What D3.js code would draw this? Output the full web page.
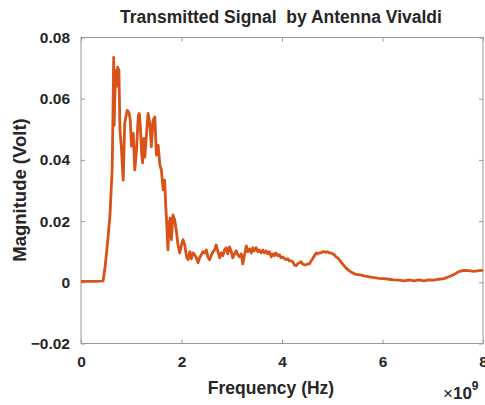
<!DOCTYPE html>
<html>
<head>
<meta charset="utf-8">
<script src="https://cdn.jsdelivr.net/npm/d3@7"></script>
<style>
  body { margin: 0; background: #fff; }
  text { font-family: "Liberation Sans", Arial, sans-serif; font-weight: bold; fill: #262626; }
</style>
</head>
<body>
<div id="chart"></div>
<script>
// frequency in units of 1e9 Hz
var freq = [0, 0.2, 0.4, 0.44, 0.48, 0.54, 0.58, 0.60, 0.62, 0.635, 0.65, 0.66, 0.675, 0.69, 0.71, 0.73, 0.755, 0.775, 0.80, 0.84,
  0.87, 0.92, 0.96, 0.98, 1.005, 1.04, 1.07, 1.105, 1.14, 1.16, 1.18, 1.205, 1.225, 1.25, 1.27, 1.305, 1.335, 1.37, 1.40, 1.435,
  1.47, 1.50, 1.535, 1.57, 1.60, 1.635, 1.665, 1.685, 1.705, 1.73, 1.75, 1.775, 1.80, 1.83, 1.865, 1.90, 1.93, 1.965, 2.00, 2.03,
  2.065, 2.10, 2.13, 2.165, 2.195, 2.23, 2.26, 2.295, 2.33, 2.36, 2.395, 2.425, 2.46, 2.495, 2.525, 2.56, 2.59, 2.625, 2.66, 2.69,
  2.725, 2.76, 2.79, 2.825, 2.855, 2.89, 2.92, 2.955, 2.99, 3.02, 3.055, 3.09, 3.12, 3.155, 3.19, 3.22, 3.255, 3.29, 3.32, 3.355,
  3.39, 3.42, 3.45, 3.485, 3.52, 3.55, 3.585, 3.62, 3.65, 3.685, 3.715, 3.75, 3.785, 3.815, 3.85, 3.88, 3.915, 3.95, 3.98, 4.015,
  4.05, 4.08, 4.115, 4.145, 4.18, 4.215, 4.245, 4.28, 4.31, 4.345, 4.38, 4.41, 4.445, 4.48, 4.51, 4.545, 4.58, 4.61, 4.645, 4.68,
  4.71, 4.74, 4.775, 4.81, 4.84, 4.875, 4.905, 4.94, 4.975, 5.005, 5.04, 5.075, 5.105, 5.14, 5.205, 5.27, 5.335, 5.40, 5.47, 5.535,
  5.635, 5.735, 5.83, 5.93, 6.03, 6.13, 6.23, 6.33, 6.43, 6.53, 6.63, 6.725, 6.825, 6.925, 7.025, 7.12, 7.22, 7.32, 7.42, 7.52,
  7.62, 7.72, 7.82, 7.915, 8.0];

var magnitude = [0.0003, 0.0003, 0.0004, 0.0005, 0.0051, 0.0149, 0.0227, 0.0302, 0.0367, 0.053, 0.0735, 0.0513, 0.061, 0.0692, 0.064, 0.0703, 0.0692, 0.0497, 0.0448, 0.0334,
  0.052, 0.0562, 0.0552, 0.053, 0.0445, 0.0487, 0.0367, 0.0432, 0.0546, 0.0552, 0.0513, 0.0425, 0.039, 0.047, 0.0409, 0.0487, 0.0552, 0.052, 0.0443, 0.053,
  0.054, 0.0416, 0.0448, 0.0383, 0.0367, 0.0302, 0.0334, 0.0253, 0.0197, 0.0106, 0.0188, 0.021, 0.0139, 0.022, 0.0204, 0.0165, 0.0122, 0.0096, 0.0122, 0.0139,
  0.0122, 0.0083, 0.0074, 0.01, 0.0077, 0.0096, 0.009, 0.008, 0.0064, 0.008, 0.009, 0.01, 0.0096, 0.0106, 0.0083, 0.0074, 0.0087, 0.01, 0.0106, 0.0122,
  0.01, 0.008, 0.0096, 0.0087, 0.0106, 0.0113, 0.0093, 0.0116, 0.01, 0.008, 0.0093, 0.0103, 0.009, 0.0083, 0.0093, 0.006, 0.009, 0.0119, 0.01, 0.0109,
  0.0096, 0.0113, 0.0103, 0.0113, 0.01, 0.0106, 0.0096, 0.0106, 0.0096, 0.0103, 0.0093, 0.01, 0.0083, 0.0093, 0.0087, 0.0096, 0.0087, 0.009, 0.008, 0.0083,
  0.0077, 0.0074, 0.0077, 0.007, 0.007, 0.0067, 0.0057, 0.0054, 0.006, 0.0064, 0.0067, 0.006, 0.0057, 0.0057, 0.006, 0.006, 0.007, 0.0077, 0.0087, 0.0096,
  0.0093, 0.0096, 0.0096, 0.01, 0.01, 0.0098, 0.01, 0.0096, 0.0096, 0.0093, 0.009, 0.0083, 0.008, 0.0074, 0.006, 0.0047, 0.0038, 0.0031, 0.0026, 0.0025,
  0.0021, 0.0018, 0.0015, 0.0013, 0.0012, 0.001, 0.0008, 0.0007, 0.0005, 0.0008, 0.0005, 0.0008, 0.0005, 0.0008, 0.0007, 0.001, 0.0012, 0.0018, 0.0025, 0.0035,
  0.0039, 0.0038, 0.0036, 0.0038, 0.0039];

var xTicks = [0, 2, 4, 6, 8];
var yTicks = [-0.02, 0, 0.02, 0.04, 0.06, 0.08];

var svgWidth = 485;
var svgHeight = 405;
var margin = { top: 37.5, right: 2, bottom: 61.5, left: 81 };
var width = svgWidth - margin.left - margin.right;
var height = svgHeight - margin.top - margin.bottom;

var svg = d3.select("#chart")
  .append("svg")
  .attr("width", svgWidth)
  .attr("height", svgHeight);

var chartGroup = svg.append("g")
  .attr("transform", `translate(${margin.left}, ${margin.top})`);

var xScale = d3.scaleLinear().domain([0, 8]).range([0, width]);
var yScale = d3.scaleLinear().domain([-0.02, 0.08]).range([height, 0]);

var fmtY = d => d === 0 ? "0" : d3.format(".2f")(d);

// box
chartGroup.append("rect")
  .attr("width", width)
  .attr("height", height)
  .attr("fill", "none")
  .attr("stroke", "#9a9a9a")
  .attr("stroke-width", 1);

function styleAxis(g) {
  g.select(".domain").remove();
  g.selectAll(".tick line").attr("stroke", "#9a9a9a");
  g.selectAll(".tick text")
    .style("font-size", "15.5px")
    .style("font-family", "Liberation Sans, Arial, sans-serif")
    .style("font-weight", "bold")
    .attr("fill", "#262626");
}

var bottomAxis = d3.axisBottom(xScale).tickValues(xTicks).tickSize(-4).tickPadding(12);
chartGroup.append("g")
  .attr("transform", `translate(0, ${height})`)
  .call(bottomAxis)
  .call(styleAxis);

chartGroup.append("g")
  .call(d3.axisTop(xScale).tickValues(xTicks).tickSize(-4).tickFormat(""))
  .call(styleAxis);

var leftAxis = d3.axisLeft(yScale).tickValues(yTicks).tickSize(-4).tickPadding(11).tickFormat(fmtY);
chartGroup.append("g")
  .call(leftAxis)
  .call(styleAxis);

chartGroup.append("g")
  .attr("transform", `translate(${width}, 0)`)
  .call(d3.axisRight(yScale).tickValues(yTicks).tickSize(-4).tickFormat(""))
  .call(styleAxis);

var line = d3.line()
  .x((d, i) => xScale(freq[i]))
  .y(d => yScale(d));

chartGroup.append("path")
  .datum(magnitude)
  .attr("d", line)
  .attr("fill", "none")
  .attr("stroke", "#D95319")
  .attr("stroke-width", 2.8)
  .attr("stroke-linejoin", "round");

// labels
svg.append("text")
  .attr("x", 281)
  .attr("y", 23)
  .attr("text-anchor", "middle")
  .style("font-size", "17.5px")
  .attr("xml:space", "preserve")
  .text("Transmitted Signal  by Antenna Vivaldi");

svg.append("text")
  .attr("x", 271)
  .attr("y", 394)
  .attr("text-anchor", "middle")
  .style("font-size", "17.5px")
  .text("Frequency (Hz)");

svg.append("text")
  .attr("transform", "translate(26, 190) rotate(-90)")
  .attr("text-anchor", "middle")
  .style("font-size", "18.5px")
  .text("Magnitude (Volt)");

var expLabel = svg.append("text")
  .attr("x", 443)
  .attr("y", 399)
  .style("font-size", "17px");
expLabel.append("tspan").style("font-weight", "normal").text("\u00d7");
expLabel.append("tspan").text("10");
expLabel.append("tspan").attr("dy", -9).style("font-size", "12px").text("9");
</script>
</body>
</html>
